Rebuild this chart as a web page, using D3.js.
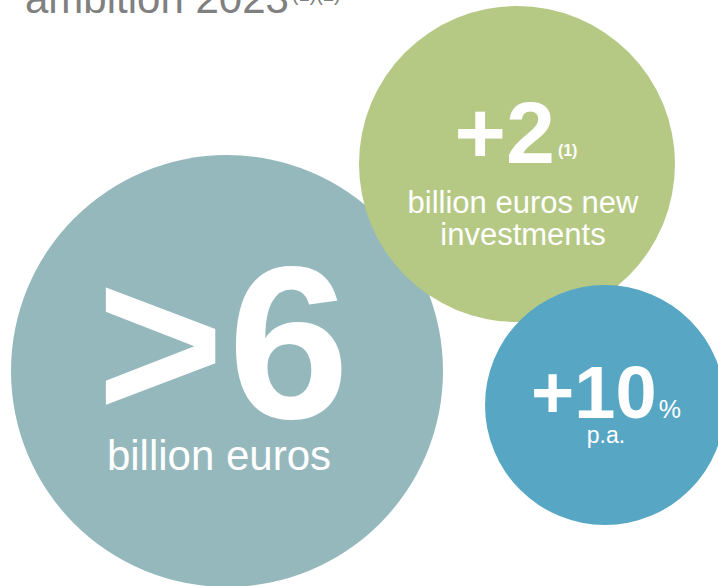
<!DOCTYPE html>
<html lang="en">
<head>
    <meta charset="UTF-8">
    <title>ambition 2023</title>
    <style>
        body {
            margin: 0;
            background-color: #fff;
            font-family: 'Liberation Sans', Arial, sans-serif;
        }

        #chart {
            width: 718px;
            height: 586px;
            overflow: hidden;
        }

        text {
            font-family: 'Liberation Sans', Arial, sans-serif;
        }
    </style>
</head>
<body>

<div id="chart"></div>

<script src="https://d3js.org/d3.v7.min.js"></script>
<script>
    // Chart content
    const title = "ambition 2023";
    const titleNote = "(1)(2)";

    const bubbleNames = ["total", "investments", "growth"];
    const headlines = [">6", "+2", "+10"];
    const headlineNotes = ["", "(1)", "%"];
    const captions = [["billion euros"], ["billion euros new", "investments"], ["p.a."]];
    const colors = ["#95b8bd", "#b5c985", "#57a7c4"];

    // Canvas
    const width = 718;
    const height = 586;

    const svg = d3.select("#chart")
        .append("svg")
        .attr("width", width)
        .attr("height", height);

    // Layout of the bubbles (drawing order = data order)
    const layout = {
        total:       { cx: 227, cy: 371, r: 216, head: 218, headY: 418, headDx: -2, notes: 0,  noteDy: 0,  cap: 42, capY: 470, capDx: -8 },
        investments: { cx: 517, cy: 164, r: 158, head: 88,  headY: 163, headDx: -1, notes: 16, noteDy: -7, cap: 31, capY: 213, capDx: 6 },
        growth:      { cx: 605, cy: 405, r: 120, head: 74,  headY: 418, headDx: 1,  notes: 25, noteDy: 0,  cap: 23, capY: 443, capDx: 1 }
    };

    const bubbles = bubbleNames.map((name, i) => ({
        name,
        headline: headlines[i],
        note: headlineNotes[i],
        caption: captions[i],
        color: colors[i],
        ...layout[name]
    }));

    // Title, cut at the top edge as in the source slide
    const titleText = svg.append("text")
        .attr("x", 25)
        .attr("y", 13)
        .attr("fill", "#808080")
        .attr("font-size", 42)
        .text(title);

    titleText.append("tspan")
        .attr("font-size", 20)
        .attr("dy", -12)
        .attr("dx", 3)
        .text(titleNote);

    // Circles
    const g = svg.selectAll("g.bubble")
        .data(bubbles)
        .enter().append("g")
        .attr("class", "bubble");

    g.append("circle")
        .attr("cx", d => d.cx)
        .attr("cy", d => d.cy)
        .attr("r", d => d.r)
        .attr("fill", d => d.color);

    // Headline figures
    const head = g.append("text")
        .attr("x", d => d.cx + d.headDx)
        .attr("y", d => d.headY)
        .attr("fill", "#fff")
        .attr("text-anchor", "middle")
        .attr("font-weight", "bold")
        .attr("font-size", d => d.head)
        .attr("letter-spacing", d => d.name === "total" ? 4 : 0);

    head.append("tspan")
        .text(d => d.headline);

    head.filter(d => d.note)
        .append("tspan")
        .attr("font-size", d => d.notes)
        .attr("font-weight", d => d.note === "%" ? "normal" : "bold")
        .attr("dx", d => d.note === "%" ? 2 : 3)
        .attr("dy", d => d.noteDy)
        .text(d => d.note);

    // Captions
    g.each(function(d) {
        d3.select(this).selectAll("text.caption")
            .data(d.caption)
            .enter().append("text")
            .attr("class", "caption")
            .attr("x", d.cx + d.capDx)
            .attr("y", (c, j) => d.capY + j * d.cap * 1.02)
            .attr("fill", "#fff")
            .attr("text-anchor", "middle")
            .attr("font-size", d.cap)
            .text(c => c);
    });
</script>

</body>
</html>
